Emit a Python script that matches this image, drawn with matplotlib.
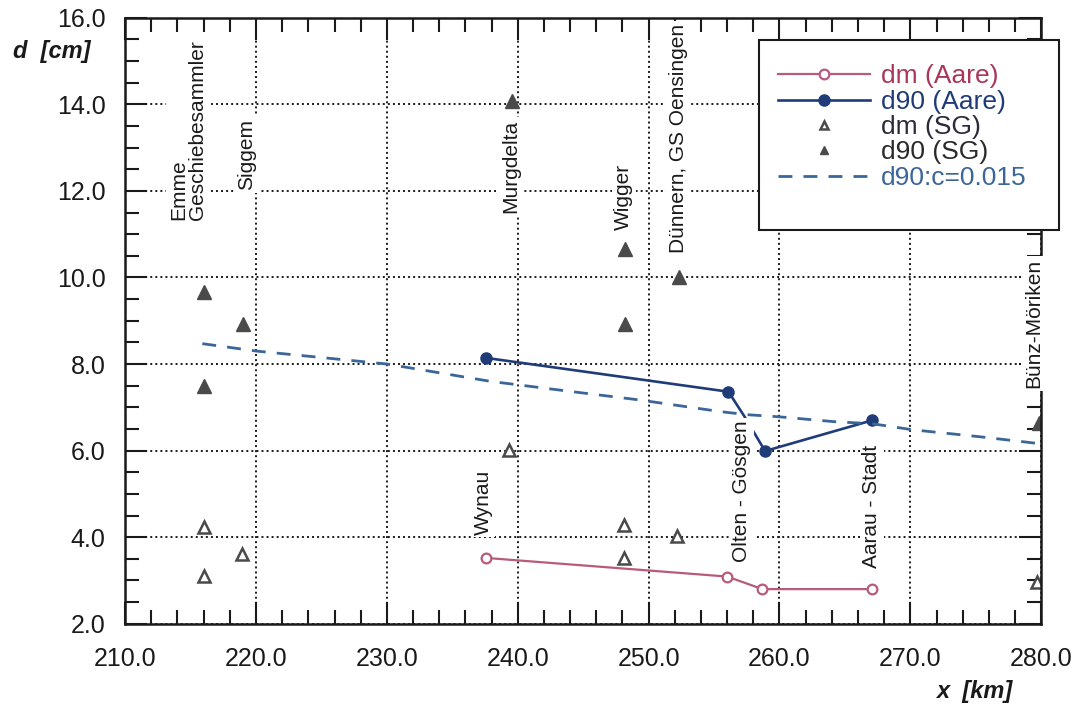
import numpy as np
import matplotlib
matplotlib.use("Agg")
import matplotlib.pyplot as plt
from matplotlib.patches import Rectangle
from matplotlib.ticker import MultipleLocator, FormatStrFormatter

plt.rcParams['font.family'] = ['Liberation Sans', 'DejaVu Sans']

# Aare measurements
aare_x = [237.6, 256.0, 258.7, 267.1]
dm_aare = [3.52, 3.09, 2.80, 2.80]
d90_aare_x = [237.6, 256.1, 257.3, 258.9, 267.1]
d90_aare = [8.14, 7.36, 6.80, 5.99, 6.70]

# sediment sources (SG)
sg_x_d90 = [216.0, 216.0, 219.0, 239.6, 248.2, 248.2, 252.3, 279.8]
d90_sg = [9.67, 7.50, 8.93, 14.08, 10.66, 8.93, 10.00, 6.64]
sg_x_dm = [216.0, 216.0, 218.9, 239.3, 248.1, 248.1, 252.2, 279.7]
dm_sg = [4.24, 3.10, 3.60, 6.02, 4.29, 3.52, 4.03, 2.97]

# computed d90 with c=0.015
calc_x = [215.9, 220.0, 230.0, 237.9, 244.2, 249.3, 255.5, 257.5, 260.0, 264.1, 267.1, 270.2, 275.3, 279.6]
d90_calc = [8.47, 8.30, 8.00, 7.60, 7.36, 7.17, 6.90, 6.83, 6.78, 6.67, 6.62, 6.48, 6.32, 6.17]

# site labels: text, x, y (bottom of rotated text)
site_names = ["Emme\nGeschiebesammler", "Siggem", "Murgdelta", "Wigger",
              "Dünnern, GS Oensingen", "Wynau", "Olten - Gösgen", "Aarau - Stadt", "Bünz-Möriken"]
site_x = [214.8, 219.3, 239.5, 248.1, 252.25, 237.35, 257.1, 267.07, 279.4]
site_y = [11.33, 12.02, 11.5, 11.1, 10.57, 4.06, 3.43, 3.29, 7.45]

c_dm = "#b85a7c"
c_dm_txt = "#a8375a"
c_d90 = "#1f3c78"
c_calc = "#3b6699"
c_tri = "#4a4a4a"

fig = plt.figure(figsize=(10.88, 7.08), dpi=100)
ax = fig.add_axes([0.115, 0.119, 0.842, 0.856])

ax.plot(aare_x, dm_aare, color=c_dm, lw=1.6, marker="o", ms=7, mfc="white", mec=c_dm, mew=1.6,
        label="dm (Aare)", zorder=2)
ax.plot(d90_aare_x, d90_aare, color=c_d90, lw=1.9, marker="o", ms=8, mfc=c_d90, mec=c_d90,
        markevery=[0, 1, 3, 4], label="d90 (Aare)", zorder=2)
ax.plot(sg_x_dm, dm_sg, ls="none", marker="^", ms=9, mfc="white", mec=c_tri, mew=1.8,
        label="dm (SG)", zorder=2)
ax.plot(sg_x_d90, d90_sg, ls="none", marker="^", ms=10, mfc=c_tri, mec=c_tri,
        label="d90 (SG)", zorder=2)
ax.plot(calc_x, d90_calc, color=c_calc, lw=2.0, ls=(0, (5, 4)), label="d90:c=0.015", zorder=2)

for name, sx, sy in zip(site_names, site_x, site_y):
    ax.text(sx, sy, name, rotation=90, ha="center", va="bottom", fontsize=15,
            multialignment="left", linespacing=1.0, color="#1a1a1a",
            bbox=dict(facecolor="white", edgecolor="none", pad=2), zorder=3)

ax.set_xlim(210, 280)
ax.set_ylim(2, 16)
ax.xaxis.set_major_locator(MultipleLocator(10))
ax.xaxis.set_minor_locator(MultipleLocator(2))
ax.yaxis.set_major_locator(MultipleLocator(2))
ax.yaxis.set_minor_locator(MultipleLocator(0.5))
ax.xaxis.set_major_formatter(FormatStrFormatter("%.1f"))
ax.yaxis.set_major_formatter(FormatStrFormatter("%.1f"))
ax.tick_params(which="both", direction="in", top=True, right=True, width=1.5, colors="#1a1a1a")
ax.tick_params(which="major", length=16, labelsize=18, pad=17)
ax.tick_params(which="minor", length=10)
ax.tick_params(axis="y", which="major", pad=14)
for s in ax.spines.values():
    s.set_linewidth(1.8)
    s.set_color("#1a1a1a")

ax.grid(True, which="major", color="#1a1a1a", ls=(0, (1, 1.6)), lw=1.4, zorder=0.5)

fig.text(0.012, 0.918, "d  [cm]", fontsize=17, fontweight="bold", fontstyle="italic", color="#1a1a1a")
fig.text(0.86, 0.014, "x  [km]", fontsize=17, fontweight="bold", fontstyle="italic", color="#1a1a1a")

# legend box (extends past the right spine)
ax.add_patch(Rectangle((0.698, 0.675), 0.275, 0.268, transform=fig.transFigure, clip_on=False,
                       facecolor="white", edgecolor="#1a1a1a", lw=1.5, zorder=4))
leg = ax.legend(loc="upper left", bbox_to_anchor=(0.698, 0.935), bbox_transform=fig.transFigure,
                frameon=False, fontsize=19, handlelength=3.5, labelspacing=0.05,
                handletextpad=0.4, numpoints=1, borderpad=0.2)
leg.set_zorder(5)
txt_colors = [c_dm_txt, c_d90, "#2a2a3a", "#2a2a2a", c_calc]
for t, c in zip(leg.get_texts(), txt_colors):
    t.set_color(c)
for h in leg.legend_handles[2:4]:
    h.set_markersize(6)

fig.savefig("out.png", dpi=100)
